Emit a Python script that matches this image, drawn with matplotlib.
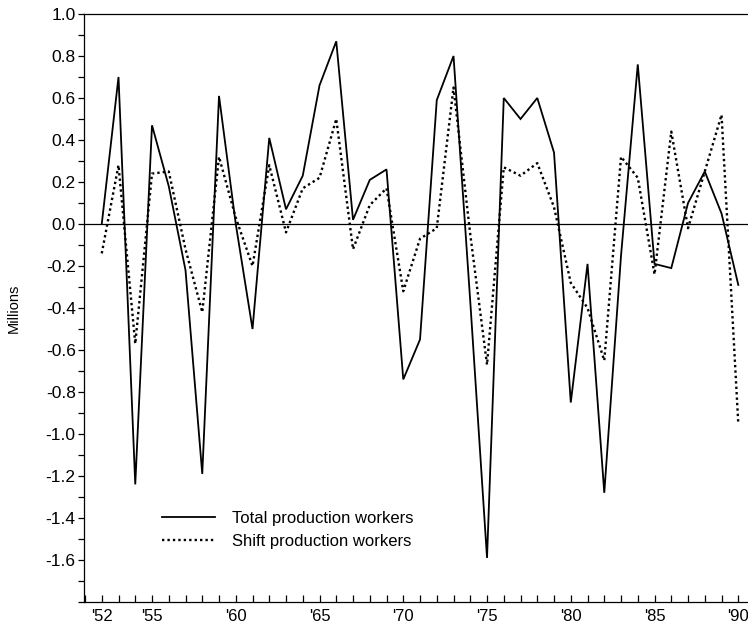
import numpy as np
import matplotlib
matplotlib.use("Agg")
import matplotlib.pyplot as plt
from matplotlib.ticker import MultipleLocator, FixedLocator

plt.rcParams['font.family'] = ['Liberation Sans', 'DejaVu Sans']

# Annual change, millions of workers
years = list(range(1952, 1991))
total_workers = [0.00, 0.70, -1.24, 0.47, 0.18, -0.22, -1.19, 0.61, 0.00, -0.50,
                 0.41, 0.07, 0.23, 0.66, 0.87, 0.02, 0.21, 0.26, -0.74, -0.55,
                 0.59, 0.80, -0.37, -1.59, 0.60, 0.50, 0.60, 0.34, -0.85, -0.19,
                 -1.28, -0.15, 0.76, -0.19, -0.21, 0.10, 0.25, 0.05, -0.29]
shift_workers = [-0.14, 0.28, -0.57, 0.24, 0.25, -0.12, -0.42, 0.32, 0.03, -0.20,
                 0.28, -0.04, 0.17, 0.22, 0.50, -0.12, 0.09, 0.17, -0.32, -0.07,
                 -0.02, 0.65, -0.05, -0.67, 0.27, 0.23, 0.29, 0.08, -0.28, -0.40,
                 -0.65, 0.32, 0.22, -0.24, 0.44, -0.02, 0.25, 0.52, -0.95]
label_years = [1952, 1955, 1960, 1965, 1970, 1975, 1980, 1985, 1990]
year_labels = ["'52", "'55", "'60", "'65", "'70", "'75", "'80", "'85", "'90"]
y_ticks = [-1.6, -1.4, -1.2, -1.0, -0.8, -0.6, -0.4, -0.2, 0.0, 0.2, 0.4, 0.6, 0.8, 1.0]

fig = plt.figure(figsize=(7.48, 6.23), dpi=100)
ax = fig.add_axes([84 / 748, 21 / 623, 664 / 748, 588 / 623])

ax.axhline(0, color='black', lw=0.9, zorder=1)
ax.plot(years, total_workers, color='black', lw=1.3, solid_joinstyle='miter',
        label='Total production workers')
ax.plot(years, shift_workers, color='black', lw=1.7, linestyle=(0, (1, 1.3)),
        label='Shift production workers')

ax.set_xlim(1950.94, 1990.58)
ax.set_ylim(-1.8, 1.0)

ax.xaxis.set_major_locator(FixedLocator(label_years))
ax.set_xticklabels(year_labels, fontsize=12)
ax.xaxis.set_minor_locator(MultipleLocator(1))
ax.tick_params(axis='x', which='both', direction='in', length=5, width=0.9, pad=5)

ax.set_yticks(y_ticks)
ax.set_yticklabels([f"{v:.1f}" for v in y_ticks], fontsize=12.5)
ax.yaxis.set_minor_locator(MultipleLocator(0.1))
ax.tick_params(axis='y', which='both', direction='out', length=4, width=0.9, pad=2)

ax.spines['right'].set_visible(False)
for s in ['left', 'top', 'bottom']:
    ax.spines[s].set_linewidth(0.9)

ax.set_ylabel('Millions', fontsize=10.5, labelpad=18)

ax.legend(loc='upper left', bbox_to_anchor=(0.117, 0.155), frameon=False,
          fontsize=12, handlelength=3.2, handletextpad=1.0, labelspacing=0.5,
          borderpad=0, borderaxespad=0)

fig.savefig('out.png', dpi=100)
